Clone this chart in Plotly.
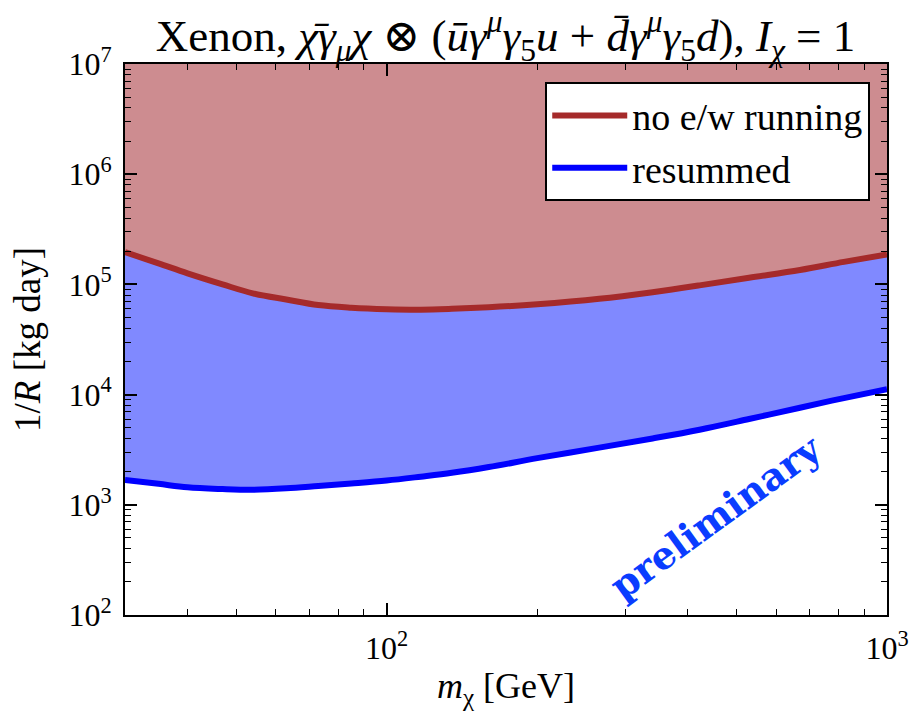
import plotly.graph_objects as go

# Dark-matter mass grid [GeV] and inverse rate bounds 1/R [kg day]
mass = [30, 35, 40, 47, 54, 63, 73, 85, 100, 117, 135, 160, 200, 266, 340, 422, 530, 670, 820, 1000]
no_ew_running = [1.96e5, 1.55e5, 1.26e5, 1.0e5, 8.3e4, 7.3e4, 6.5e4, 6.15e4, 5.96e4, 5.9e4, 6.0e4, 6.2e4, 6.6e4, 7.4e4, 8.5e4, 9.8e4, 1.15e5, 1.35e5, 1.6e5, 1.87e5]
resummed = [1.68e3, 1.55e3, 1.44e3, 1.39e3, 1.37e3, 1.41e3, 1.48e3, 1.56e3, 1.66e3, 1.8e3, 1.95e3, 2.2e3, 2.65e3, 3.3e3, 4.0e3, 4.8e3, 6.0e3, 7.6e3, 9.3e3, 1.12e4]

x_range = [30, 1000]
y_range = [1e2, 1e7]

# major tick positions and labels
x_major = [100, 1000]
x_major_text = ["10<sup>2</sup>", "10<sup>3</sup>"]
y_major = [1e2, 1e3, 1e4, 1e5, 1e6, 1e7]
y_major_text = ["10<sup>2</sup>", "10<sup>3</sup>", "10<sup>4</sup>", "10<sup>5</sup>", "10<sup>6</sup>", "10<sup>7</sup>"]

# minor tick positions (2..9 times each decade)
x_minor = [m * 10 ** e for e in (1, 2) for m in range(2, 10) if 30 <= m * 10 ** e <= 1000]
y_minor = [m * 10 ** e for e in range(2, 7) for m in range(2, 10)]

RED = "#a52a2a"
BLUE = "#0000ff"
RED_FILL = "#cd8c90"
BLUE_FILL = "#8089ff"
SERIF = "Liberation Serif, DejaVu Serif, serif"

fig = go.Figure()

# filled bands
fig.add_trace(go.Scatter(x=mass, y=resummed, mode="lines", line=dict(width=0, shape="spline"),
                         showlegend=False, hoverinfo="skip"))
fig.add_trace(go.Scatter(x=mass, y=no_ew_running, mode="lines", line=dict(width=0, shape="spline"),
                         fill="tonexty", fillcolor=BLUE_FILL, showlegend=False, hoverinfo="skip"))
fig.add_trace(go.Scatter(x=x_range, y=[y_range[1]] * 2, mode="lines", line=dict(width=0),
                         fill="tonexty", fillcolor=RED_FILL, showlegend=False, hoverinfo="skip"))

# boundary curves
fig.add_trace(go.Scatter(x=mass, y=no_ew_running, mode="lines", name="no e/w running",
                         line=dict(color=RED, width=6, shape="spline")))
fig.add_trace(go.Scatter(x=mass, y=resummed, mode="lines", name="resummed",
                         line=dict(color=BLUE, width=6, shape="spline")))

# empty trace that carries the minor-tick axes
fig.add_trace(go.Scatter(x=x_range, y=y_range, xaxis="x2", yaxis="y2", mode="lines",
                         line=dict(width=0), showlegend=False, hoverinfo="skip"))

frame = dict(type="log", showgrid=False, zeroline=False, automargin=False,
             showline=True, linecolor="black", linewidth=2, mirror="allticks",
             ticks="inside", tickcolor="black")
log_x = [1.4771, 3]
log_y = [2, 7]

fig.update_layout(
    xaxis=dict(**frame, range=log_x, tickmode="array", tickvals=x_major, ticktext=x_major_text,
               ticklen=12, tickwidth=1.5, ticklabelstandoff=4,
               tickfont=dict(family=SERIF, size=32, color="black"),
               title=dict(text="<i>m</i><sub>χ</sub> [GeV]", font=dict(family=SERIF, size=36, color="black"),
                          standoff=12)),
    yaxis=dict(**frame, range=log_y, tickmode="array", tickvals=y_major, ticktext=y_major_text,
               ticklen=12, tickwidth=1.5, ticklabelstandoff=5,
               tickfont=dict(family=SERIF, size=32, color="black"),
               title=dict(text="1/<i>R</i> [kg day]", font=dict(family=SERIF, size=37, color="black"),
                          standoff=16)),
    xaxis2=dict(**frame, range=log_x, overlaying="x", anchor="y2", side="bottom",
                tickmode="array", tickvals=x_minor, showticklabels=False, ticklen=6, tickwidth=1.2),
    yaxis2=dict(**frame, range=log_y, overlaying="y", anchor="x2", side="left",
                tickmode="array", tickvals=y_minor, showticklabels=False, ticklen=6, tickwidth=1.2),
)

fig.add_annotation(text="preliminary", xref="paper", yref="paper", x=0.776, y=0.178,
                   xanchor="center", yanchor="middle",
                   showarrow=False, textangle=-36,
                   font=dict(family="DejaVu Serif, serif", size=38, color="#0a3cff", weight="bold"))

fig.update_layout(
    width=914, height=711,
    margin=dict(l=125, r=27, t=64, b=96),
    paper_bgcolor="white", plot_bgcolor="white",
    title=dict(
        text="Xenon, <i>χ̄γ</i><sub><i>μ</i></sub><i>χ</i> ⊗ (<i>ūγ</i><sup><i>μ</i></sup><i>γ</i><sub>5</sub><i>u</i>"
             " + <i>d̄γ</i><sup><i>μ</i></sup><i>γ</i><sub>5</sub><i>d</i>), <i>I</i><sub><i>χ</i></sub> = 1",
        x=0.553, xanchor="center", y=0.950, yanchor="middle",
        font=dict(family=SERIF, size=45, color="black")),
    legend=dict(x=0.978, y=0.967, xanchor="right", yanchor="top",
                bgcolor="white", bordercolor="black", borderwidth=2,
                font=dict(family=SERIF, size=38, color="black"),
                traceorder="normal", itemwidth=75),
    showlegend=True,
)

fig.write_html("out.html")
